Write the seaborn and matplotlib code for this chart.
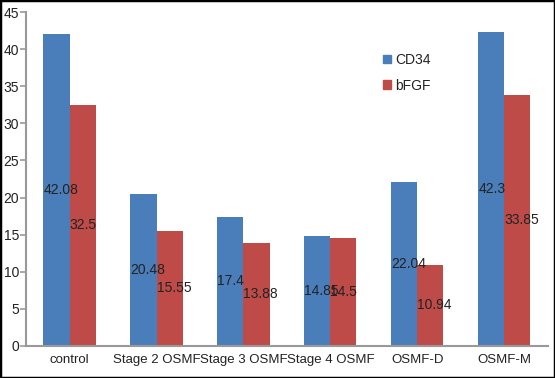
import seaborn as sns
import matplotlib.pyplot as plt
import pandas as pd
from matplotlib.patches import Rectangle

groups = ['control', 'Stage 2 OSMF', 'Stage 3 OSMF', 'Stage 4 OSMF', 'OSMF-D', 'OSMF-M']
cd34 = [42.08, 20.48, 17.4, 14.85, 22.04, 42.3]
bfgf = [32.5, 15.55, 13.88, 14.5, 10.94, 33.85]
markers = ['CD34', 'bFGF']
colors = ['#4A7EBB', '#BE4B48']

df = pd.DataFrame({
    'group': groups * 2,
    'marker': [markers[0]] * len(groups) + [markers[1]] * len(groups),
    'value': cd34 + bfgf,
})

sns.set_style('white')
plt.rcParams['font.family'] = ['Liberation Sans', 'DejaVu Sans']

fig = plt.figure(figsize=(5.55, 3.78), dpi=100)
ax = fig.add_axes([0.047, 0.085, 0.940, 0.883])
sns.barplot(data=df, x='group', y='value', hue='marker', palette=colors,
            width=0.6, gap=0, saturation=1, linewidth=0, ax=ax, legend=False)

# value labels, left edge of bar, middle of height
for cont in ax.containers:
    for bar in cont:
        h = bar.get_height()
        ax.text(bar.get_x(), h / 2, f'{h:g}', ha='left', va='center',
                fontsize=10, color='#222222')

ax.set_xlim(-0.5, len(groups) - 0.5)
ax.set_ylim(0, 45)
ax.set_yticks(range(0, 46, 5))
ax.set_xlabel('')
ax.set_ylabel('')
ax.set_xticks([i - 0.5 for i in range(len(groups) + 1)], minor=True)
ax.tick_params(axis='x', which='major', length=0, labelsize=9.5, labelcolor='#222222', pad=6)
ax.tick_params(axis='x', which='minor', length=5, width=1.2, color='#999999', direction='out')
ax.tick_params(axis='y', length=4, width=1.2, color='#999999', labelsize=10,
               labelcolor='#222222', direction='out', pad=1, left=True)
sns.despine(ax=ax)
for s in ['left', 'bottom']:
    ax.spines[s].set_color('#999999')
    ax.spines[s].set_linewidth(1.5)

handles = [Rectangle((0, 0), 1, 1, color=c) for c in colors]
ax.legend(handles, markers, loc='upper left', bbox_to_anchor=(0.66, 0.915),
          frameon=False, fontsize=10, handlelength=0.6, handleheight=0.6,
          handletextpad=0.3, labelspacing=0.85, labelcolor='#222222')

fig.patches.append(Rectangle((0, 0), 1, 1, transform=fig.transFigure, fill=False,
                             edgecolor='black', linewidth=2.5))
fig.savefig('out.png', dpi=100)
